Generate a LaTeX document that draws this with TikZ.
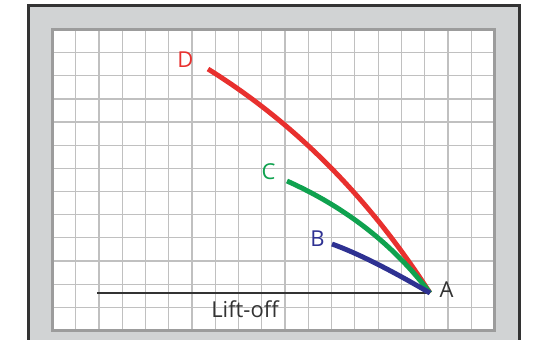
\documentclass[tikz,border=0pt]{standalone}
\usepackage{fontspec}
\setmainfont{Open Sans}
\definecolor{framegray}{HTML}{D1D3D4}
\definecolor{framedark}{HTML}{333333}
\definecolor{edgegray}{HTML}{9C9C9C}
\definecolor{gridgray}{HTML}{C0C0C0}
\definecolor{dred}{HTML}{E8302E}
\definecolor{dgreen}{HTML}{0FA24F}
\definecolor{dblue}{HTML}{2E3192}
\definecolor{textdark}{HTML}{333333}
\begin{document}
\begin{tikzpicture}[x=0.02cm,y=-0.02cm,gridline/.style={draw=gridgray,line width=0.7pt},trace/.style={line width=2.8pt},lbl/.style={inner sep=0pt,font=\fontsize{12.5}{14}\selectfont}]
\clip (0,0) rectangle (534,339);
\draw[draw=framedark,line width=1.7pt,fill=framegray] (28.5,5.5) rectangle (519.5,360);
\fill[white] (52.5,29.5) rectangle (494.5,330.5);
\foreach \i in {1,...,18} \draw[gridline] ({52.5+\i*23.26},29.5) -- ({52.5+\i*23.26},330.5);
\foreach \j in {1,...,12} \draw[gridline] (52.5,{29.5+\j*23.15}) -- (494.5,{29.5+\j*23.15});
\draw[draw=edgegray,line width=1.3pt] (52.5,29.5) rectangle (494.5,330.5);
\coordinate (A) at (430,293);\coordinate (lo) at (97,293);
\coordinate (bs) at (332,244);\coordinate (cs) at (287,181);\coordinate (ds) at (208,69);
\draw[draw=textdark,line width=1.5pt] (lo)--(A);
\draw[trace,draw=dred] (ds) .. controls (294.7,123) and (368.7,197.3) .. (A);
\draw[trace,draw=dgreen] (cs) .. controls (345.7,207.4) and (393.3,244.4) .. (A);
\draw[trace,draw=dblue] (bs) .. controls (357.3,253.1) and (389.7,269.5) .. (A);
\node[lbl,text=textdark] (a) at (446.5,290) {A};
\node[lbl,text=dblue] (b) at (317.5,239) {B};
\node[lbl,text=dgreen] (c) at (268.5,171.5) {C};
\node[lbl,text=dred] (d) at (185.5,60) {D};
\node[lbl,text=textdark] (lift) at (245,309.5) {Lift-off};
\end{tikzpicture}
\end{document}
